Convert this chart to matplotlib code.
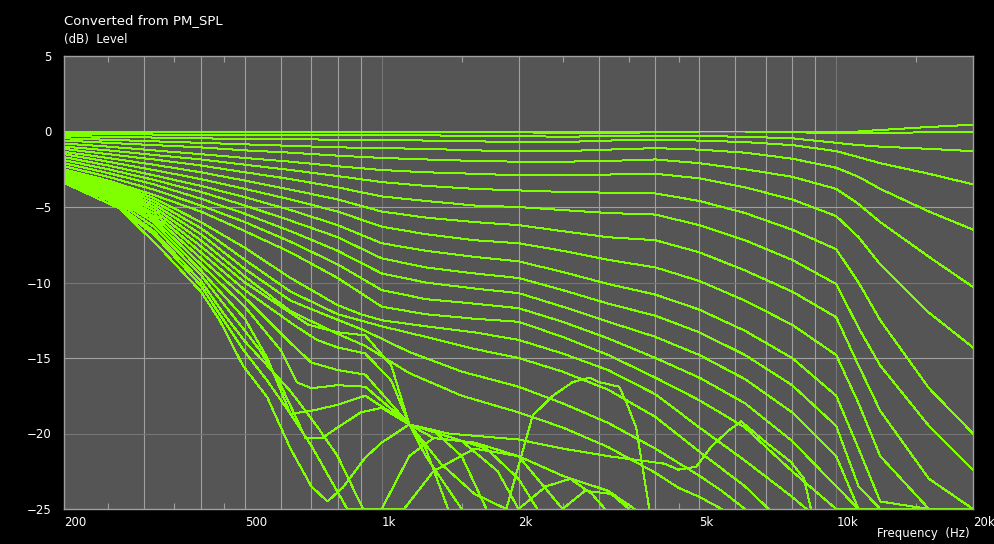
import numpy as np
import matplotlib.pyplot as plt
from matplotlib.ticker import FixedLocator, NullFormatter

# frequencies (Hz) the flat family is read at
freq = [200, 250, 315, 400, 500, 630, 800, 1000, 1250, 1600, 2000,
        2500, 3150, 4000, 5000, 6300, 8000, 10000, 11200, 12500, 16000, 20000]

# flat family (dB), values below -25 run along the bottom edge
upper = [
    [0, 0, 0, 0, 0, 0, 0, 0, 0, 0, 0, 0, 0, 0, 0, 0, 0, 0, 0, 0.1, 0.3, 0.45],
    [-0.05, -0.05, -0.05, -0.05, -0.05, -0.05, -0.05, -0.05, -0.05, -0.05, -0.05, -0.1, -0.1, -0.05, 0, 0, -0.05, -0.1, -0.1, -0.1, -0.05, 0],
    [-0.15, -0.15, -0.2, -0.2, -0.2, -0.25, -0.25, -0.25, -0.25, -0.3, -0.3, -0.35, -0.3, -0.3, -0.3, -0.35, -0.45, -0.75, -0.9, -1.0, -1.15, -1.3],
    [-0.3, -0.35, -0.4, -0.45, -0.5, -0.5, -0.55, -0.55, -0.6, -0.65, -0.7, -0.7, -0.6, -0.55, -0.6, -0.7, -0.9, -1.3, -1.7, -2.1, -2.8, -3.5],
    [-0.45, -0.55, -0.65, -0.75, -0.85, -0.95, -1.05, -1.1, -1.15, -1.25, -1.3, -1.3, -1.2, -1.1, -1.2, -1.4, -1.8, -2.4, -3.0, -3.8, -5.3, -6.5],
    [-0.6, -0.75, -0.9, -1.05, -1.25, -1.4, -1.6, -1.75, -1.85, -1.95, -2.0, -2.0, -1.95, -1.85, -2.1, -2.5, -3.0, -3.8, -4.8, -6.0, -8.3, -10.3],
    [-0.8, -1.0, -1.25, -1.5, -1.75, -2.0, -2.3, -2.55, -2.7, -2.8, -2.9, -2.9, -2.85, -2.8, -3.1, -3.7, -4.5, -5.6, -7.0, -8.8, -12.0, -14.3],
    [-1.0, -1.25, -1.55, -1.85, -2.2, -2.55, -2.95, -3.35, -3.6, -3.8, -3.9, -4.0, -4.05, -4.1, -4.6, -5.4, -6.5, -7.8, -10.0, -12.5, -17.0, -20.0],
    [-1.15, -1.5, -1.85, -2.25, -2.7, -3.15, -3.7, -4.3, -4.6, -4.9, -5.0, -5.2, -5.4, -5.5, -6.2, -7.2, -8.5, -10.1, -13.0, -15.5, -19.5, -22.4],
    [-1.35, -1.75, -2.2, -2.7, -3.25, -3.85, -4.5, -5.3, -5.7, -6.0, -6.2, -6.6, -7.0, -7.2, -8.0, -9.2, -10.6, -12.3, -15.5, -18.5, -23.0, -26],
    [-1.5, -2.0, -2.55, -3.15, -3.8, -4.5, -5.3, -6.3, -6.8, -7.2, -7.4, -7.9, -8.5, -9.0, -9.9, -11.2, -12.8, -14.8, -18.0, -21.5, -26, -26],
    [-1.7, -2.25, -2.9, -3.6, -4.35, -5.2, -6.2, -7.4, -7.9, -8.3, -8.6, -9.3, -10.1, -10.8, -11.8, -13.2, -15.0, -17.5, -21.0, -24.5, -26, -26],
    [-1.9, -2.5, -3.2, -4.0, -4.9, -5.9, -7.0, -8.4, -9.0, -9.4, -9.7, -10.5, -11.4, -12.2, -13.3, -14.8, -16.8, -19.5, -23.5, -26, -26, -26],
    [-2.1, -2.75, -3.5, -4.45, -5.45, -6.6, -7.9, -9.4, -10.0, -10.4, -10.7, -11.6, -12.6, -13.6, -14.8, -16.4, -18.6, -21.5, -26, -26, -26, -26],
    [-2.3, -3.0, -3.85, -4.9, -6.0, -7.3, -8.8, -10.5, -11.1, -11.4, -11.7, -12.6, -13.7, -15.0, -16.3, -18.0, -20.5, -23.5, -26, -26, -26, -26],
    [-2.5, -3.25, -4.2, -5.3, -6.6, -8.0, -9.7, -11.6, -12.1, -12.4, -12.6, -13.6, -14.8, -16.3, -17.8, -19.6, -22.5, -25.5, -26, -26, -26, -26],
]

# steep family: (Hz, dB) points
lower = [
    [(200, -2.65), (250, -3.35), (315, -4.4), (400, -6.0), (500, -7.7), (630, -9.7), (800, -11.5), (900, -12.1),
     (1000, -12.5), (1250, -12.9), (1600, -13.3), (2000, -13.8), (2500, -14.7), (3150, -15.8), (4000, -17.4),
     (5000, -19.6), (6300, -21.8), (8000, -24.2), (8600, -25.5)],
    [(200, -2.7), (250, -3.45), (315, -4.6), (400, -6.4), (500, -8.5), (630, -10.6), (800, -12.1), (920, -12.6),
     (1000, -12.9), (1250, -13.6), (1600, -14.4), (2000, -15.0), (2500, -15.9), (3150, -17.1), (4000, -18.9),
     (5000, -21.2), (6300, -23.5), (7100, -25.5)],
    [(200, -2.75), (250, -3.55), (315, -4.8), (400, -6.8), (500, -9.1), (630, -11.2), (760, -12.2), (920, -13.2),
     (1150, -14.6), (1500, -15.9), (2000, -16.9), (2500, -18.0), (3150, -19.3), (4000, -21.0), (5000, -22.8),
     (5600, -23.8), (6300, -25.5)],
    [(200, -2.8), (250, -3.65), (315, -5.0), (400, -7.2), (500, -9.6), (630, -11.9), (800, -13.4), (920, -14.2),
     (1150, -16.0), (1500, -17.5), (2000, -18.6), (2500, -19.6), (3150, -20.9), (4000, -22.6), (4500, -23.6),
     (5000, -24.2), (5600, -25.5)],
    [(200, -2.85), (250, -3.75), (315, -5.2), (400, -7.6), (500, -10.0), (690, -12.8), (800, -13.3), (920, -13.5),
     (1050, -15.5), (1150, -19.4), (1400, -20.0), (2000, -20.4), (2500, -21.0), (3150, -21.5), (4190, -22.0),
     (4500, -22.4), (4920, -22.2), (5300, -20.9), (5800, -19.8), (6180, -19.2), (6950, -20.5), (7960, -21.9),
     (8500, -23.0), (8800, -25.5)],
    [(200, -2.9), (250, -3.85), (315, -5.4), (400, -8.0), (500, -10.5), (640, -12.8), (720, -13.8), (800, -14.3),
     (920, -14.7), (1050, -16.5), (1150, -19.4), (1300, -20.3), (1600, -20.6), (2000, -21.5), (2500, -22.8),
     (3150, -23.8), (3600, -25.5)],
    [(200, -2.95), (250, -3.95), (315, -5.6), (400, -8.4), (500, -11.0), (575, -12.8), (630, -14.0), (700, -15.3),
     (800, -15.8), (920, -16.1), (1150, -19.4), (1250, -21.5), (1500, -25.5)],
    [(200, -3.0), (250, -4.05), (315, -5.8), (400, -8.8), (500, -11.6), (600, -14.5), (650, -16.6), (700, -17.0),
     (800, -16.8), (920, -16.9), (1150, -19.4), (1350, -22.0), (1600, -24.0), (1880, -25.5), (2150, -18.8),
     (2380, -17.5), (2630, -16.6), (2870, -16.3), (3010, -16.6), (3330, -16.9), (3450, -17.9), (3630, -19.6),
     (3880, -25.5)],
    [(200, -3.1), (250, -4.15), (315, -6.0), (400, -9.2), (500, -12.4), (560, -15.0), (630, -18.7), (700, -18.5),
     (800, -18.1), (920, -17.5), (1150, -19.4), (1400, -20.2), (1700, -21.0), (2000, -23.0), (2200, -25.5)],
    [(200, -3.15), (250, -4.25), (315, -6.3), (400, -9.5), (500, -13.2), (540, -14.5), (600, -16.8), (680, -20.3),
     (740, -20.3), (800, -19.6), (900, -18.6), (1000, -18.3), (1150, -19.4), (1250, -21.0), (1400, -25.5)],
    [(200, -3.2), (250, -4.4), (315, -6.6), (400, -9.9), (450, -12.1), (500, -13.9), (560, -15.5), (630, -17.2),
     (720, -19.5), (800, -21.5), (910, -25.5), (1120, -25.5), (1300, -22.5), (1600, -21.0), (2000, -21.5),
     (2500, -25.5), (2800, -23.8), (3200, -24.0), (3500, -25.5)],
    [(200, -3.3), (250, -4.55), (315, -6.8), (400, -10.2), (440, -12.1), (500, -14.6), (560, -16.5), (630, -18.7),
     (700, -20.8), (840, -25.5), (1000, -25.5), (1150, -21.5), (1300, -20.3), (1500, -20.5), (1800, -22.5),
     (2000, -25.5), (2300, -23.5), (2600, -23.0), (2900, -24.0), (3100, -25.5)],
    [(200, -3.4), (265, -5.1), (325, -7.7), (400, -10.6), (440, -12.5), (495, -15.5), (560, -17.6), (630, -21.0),
     (700, -23.5), (760, -24.5), (820, -23.6), (920, -21.6), (1000, -20.6), (1150, -19.4), (1300, -19.8),
     (1500, -21.5), (1700, -25.5)],
]

x_labels = ["200", "500", "1k", "2k", "5k", "10k", "20k"]
x_label_pos = [200, 500, 1000, 2000, 5000, 10000, 20000]
y_ticks = [5, 0, -5, -10, -15, -20, -25]

light = "#a0a0a0"
dark = "#767676"
green = "#7fff00"

fig = plt.figure(figsize=(9.95, 5.44), dpi=100, facecolor="black")
ax = fig.add_axes([64 / 995, 35 / 544, 909 / 995, 453 / 544])
ax.set_facecolor("#555555")
ax.set_xscale("log")
ax.set_xlim(200, 20000)
ax.set_ylim(-25, 5)

# grid
for f in [300, 400, 500, 600, 700, 800, 900, 2000, 3000, 4000, 5000, 6000, 7000, 8000, 9000]:
    ax.axvline(f, color=light, lw=0.8, zorder=1)
for f in [1000, 10000]:
    ax.axvline(f, color=dark, lw=0.8, zorder=1)
for v in [-5, -15]:
    ax.axhline(v, color=light, lw=0.8, zorder=1)
for v in [0, -10, -20]:
    ax.axhline(v, color=dark, lw=0.8, zorder=1)

for curve in upper:
    ax.plot(freq, np.clip(curve, -25, None), color=green, lw=0.72,
            antialiased=False, zorder=3)
for pts in lower:
    f, v = zip(*pts)
    ax.plot(f, np.clip(v, -25, None), color=green, lw=0.72,
            antialiased=False, zorder=3)

for s in ax.spines.values():
    s.set_color(light)
    s.set_linewidth(1.0)
    s.set_zorder(4)

ax.xaxis.set_major_locator(FixedLocator(x_label_pos))
ax.xaxis.set_minor_locator(FixedLocator([250, 350, 450, 1500, 2500, 3500, 4500, 15000]))
ax.xaxis.set_minor_formatter(NullFormatter())
ax.set_xticklabels(x_labels)
for lab in ax.get_xticklabels():
    lab.set_horizontalalignment("left")
ax.tick_params(axis="x", which="major", length=0, pad=5, colors="white", labelsize=8.5)
ax.tick_params(axis="x", which="minor", direction="in", length=4, width=0.8,
               color=light, top=True, bottom=True)
ax.set_yticks(y_ticks)
ax.tick_params(axis="y", which="major", length=0, pad=9, colors="white", labelsize=8.5)

fig.text(64 / 995, 1 - 21 / 544, "Converted from PM_SPL", color="white",
         fontsize=9.5, va="center", ha="left")
fig.text(64 / 995, 1 - 39 / 544, "(dB)  Level", color="white",
         fontsize=8.5, va="center", ha="left")
fig.text(970 / 995, 1 - 533 / 544, "Frequency  (Hz)", color="white",
         fontsize=8.5, va="center", ha="right")

fig.savefig("out.png", dpi=100, facecolor="black")
